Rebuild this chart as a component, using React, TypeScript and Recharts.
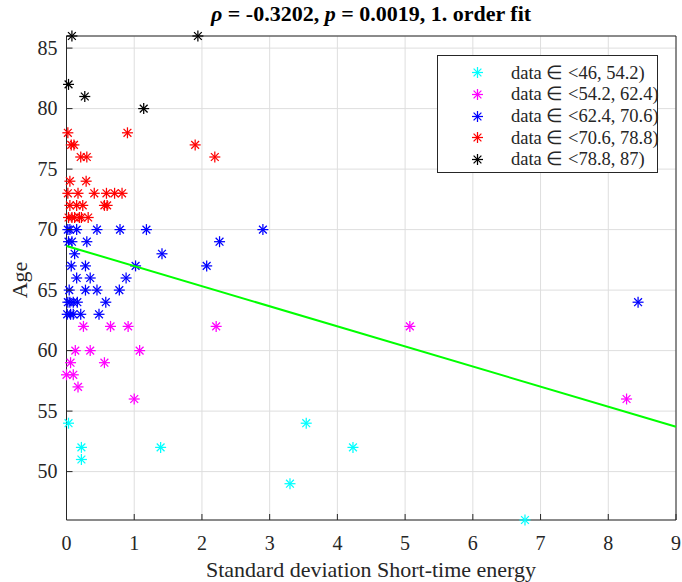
import React from 'react';
import { ScatterChart, Scatter, XAxis, YAxis, CartesianGrid } from 'recharts';

// ---- data ----
const xTicks = [0, 1, 2, 3, 4, 5, 6, 7, 8, 9];
const yTicks = [50, 55, 60, 65, 70, 75, 80, 85];

const seriesNames = [
  'data \u2208 <46, 54.2)',
  'data \u2208 <54.2, 62.4)',
  'data \u2208 <62.4, 70.6)',
  'data \u2208 <70.6, 78.8)',
  'data \u2208 <78.8, 87)',
];
const seriesColors = ['#00ffff', '#ff00ff', '#0000ff', '#ff0000', '#000000'];

const cyanX = [0.03, 3.54, 0.22, 1.39, 4.23, 0.22, 3.3, 6.77];
const cyanY = [54, 54, 52, 52, 52, 51, 49, 46];

const magentaX = [0.25, 0.65, 0.91, 2.21, 5.07, 0.13, 0.35, 1.08, 0.06, 0.56, 0.0, 0.1, 0.17, 1.0, 8.27];
const magentaY = [62, 62, 62, 62, 62, 60, 60, 60, 59, 59, 58, 58, 57, 56, 56];

const blueX = [
  0.02, 0.05, 0.15, 0.45, 0.79, 1.18, 2.9,
  0.03, 0.08, 0.3, 2.26,
  0.12, 1.41,
  0.07, 0.28, 1.02, 2.07,
  0.15, 0.35, 0.88,
  0.04, 0.28, 0.45, 0.78,
  0.02, 0.05, 0.1, 0.16, 0.58, 8.44,
  0.01, 0.06, 0.1, 0.21, 0.48,
];
const blueY = [
  70, 70, 70, 70, 70, 70, 70,
  69, 69, 69, 69,
  68, 68,
  67, 67, 67, 67,
  66, 66, 66,
  65, 65, 65, 65,
  64, 64, 64, 64, 64, 64,
  63, 63, 63, 63, 63,
];

const redX = [
  0.02, 0.9,
  0.07, 0.11, 1.9,
  0.21, 0.3, 2.19,
  0.05, 0.29,
  0.02, 0.17, 0.41, 0.59, 0.71, 0.82,
  0.05, 0.15, 0.24, 0.56, 0.6,
  0.03, 0.08, 0.12, 0.19, 0.22, 0.32,
];
const redY = [
  78, 78,
  77, 77, 77,
  76, 76, 76,
  74, 74,
  73, 73, 73, 73, 73, 73,
  72, 72, 72, 72, 72,
  71, 71, 71, 71, 71, 71,
];

const blackX = [0.08, 1.94, 0.03, 0.27, 1.14];
const blackY = [86, 86, 82, 81, 80];

const fitX = [0, 9];
const fitY = [68.65, 53.7];

const toPoints = (xs: number[], ys: number[]) => xs.map((x, i) => ({ x, y: ys[i] }));
const seriesData = [
  toPoints(cyanX, cyanY),
  toPoints(magentaX, magentaY),
  toPoints(blueX, blueY),
  toPoints(redX, redY),
  toPoints(blackX, blackY),
];
const fitData = toPoints(fitX, fitY);

// ---- styles ----
const FONT = '"Liberation Serif", "Times New Roman", serif';
const AXIS = '#262626';
const W = 682;
const H = 582;
const STAR_R = 5.5;
const STAR_D = 3.9;
const STAR_SW = 1.25;

const makeStar = (color: string) => (props: any) => {
  const { cx, cy } = props;
  if (cx == null || cy == null) return <g />;
  const r = STAR_R;
  const d = STAR_D;
  return (
    <g stroke={color} strokeWidth={STAR_SW} fill="none">
      <line x1={cx - r} y1={cy} x2={cx + r} y2={cy} />
      <line x1={cx} y1={cy - r} x2={cx} y2={cy + r} />
      <line x1={cx - d} y1={cy - d} x2={cx + d} y2={cy + d} />
      <line x1={cx - d} y1={cy + d} x2={cx + d} y2={cy - d} />
    </g>
  );
};

const BottomTick = (p: any) => {
  const { x, y, payload } = p;
  return (
    <g>
      <line x1={x} x2={x} y1={y} y2={y - 6} stroke={AXIS} strokeWidth={1} />
      <text x={x} y={y + 30} textAnchor="middle" fontSize={20} fontFamily={FONT} fill={AXIS}>
        {payload.value}
      </text>
    </g>
  );
};
const TopTick = (p: any) => {
  const { x, y } = p;
  return <line x1={x} x2={x} y1={y} y2={y + 6} stroke={AXIS} strokeWidth={1} />;
};
const LeftTick = (p: any) => {
  const { x, y, payload } = p;
  return (
    <g>
      <line x1={x} x2={x + 6} y1={y} y2={y} stroke={AXIS} strokeWidth={1} />
      <text x={x - 9} y={y} dy="0.34em" textAnchor="end" fontSize={20} fontFamily={FONT} fill={AXIS}>
        {payload.value}
      </text>
    </g>
  );
};
const RightTick = (p: any) => {
  const { x, y } = p;
  return <line x1={x} x2={x - 6} y1={y} y2={y} stroke={AXIS} strokeWidth={1} />;
};

const LegendStar = ({ color }: { color: string }) => (
  <svg width={13} height={13} viewBox="-6.5 -6.5 13 13" style={{ display: 'block' }}>
    <g stroke={color} strokeWidth={STAR_SW}>
      <line x1={-STAR_R} y1={0} x2={STAR_R} y2={0} />
      <line x1={0} y1={-STAR_R} x2={0} y2={STAR_R} />
      <line x1={-STAR_D} y1={-STAR_D} x2={STAR_D} y2={STAR_D} />
      <line x1={-STAR_D} y1={STAR_D} x2={STAR_D} y2={-STAR_D} />
    </g>
  </svg>
);

export default function App() {
  return (
    <div style={{ position: 'absolute', left: 0, top: 0, width: W, height: H, background: '#fff' }}>
      <ScatterChart width={W} height={H} margin={{ top: 30, right: 0, bottom: 0, left: 0.5 }}>
        <CartesianGrid stroke="#dedede" strokeWidth={1} />
        <XAxis
          type="number"
          dataKey="x"
          domain={[0, 9]}
          ticks={xTicks}
          height={62}
          tickSize={0}
          tickMargin={0}
          tick={<BottomTick />}
          axisLine={{ stroke: AXIS }}
        />
        <XAxis
          xAxisId="top"
          orientation="top"
          type="number"
          domain={[0, 9]}
          ticks={xTicks}
          height={6}
          tickSize={0}
          tickMargin={0}
          tick={<TopTick />}
          axisLine={{ stroke: AXIS }}
        />
        <YAxis
          type="number"
          dataKey="y"
          domain={[46, 86]}
          ticks={yTicks}
          width={66}
          tickSize={0}
          tickMargin={0}
          tick={<LeftTick />}
          axisLine={{ stroke: AXIS }}
        />
        <YAxis
          yAxisId="right"
          orientation="right"
          type="number"
          domain={[46, 86]}
          ticks={yTicks}
          width={6}
          tickSize={0}
          tickMargin={0}
          tick={<RightTick />}
          axisLine={{ stroke: AXIS }}
        />
        {seriesData.map((d, i) => (
          <Scatter
            key={seriesNames[i]}
            name={seriesNames[i]}
            data={d}
            shape={makeStar(seriesColors[i])}
            isAnimationActive={false}
          />
        ))}
        <Scatter
          name="fit"
          data={fitData}
          line={{ stroke: '#00ff00', strokeWidth: 2 }}
          shape={() => <g />}
          isAnimationActive={false}
        />
      </ScatterChart>

      <svg
        width={W}
        height={H}
        style={{ position: 'absolute', left: 0, top: 0, pointerEvents: 'none' }}
      >
        <text x={371} y={21} textAnchor="middle" fontSize={22} fontWeight="bold" fontFamily={FONT} fill="#000">
          <tspan fontStyle="italic">{'\u03C1'}</tspan>
          <tspan>{' = -0.3202, '}</tspan>
          <tspan fontStyle="italic">p</tspan>
          <tspan>{' = 0.0019, 1. order fit'}</tspan>
        </text>
        <text x={371} y={577} textAnchor="middle" fontSize={22} fontFamily={FONT} fill={AXIS}>
          Standard deviation Short-time energy
        </text>
        <text
          x={27}
          y={280}
          fontSize={22}
          fontFamily={FONT}
          fill={AXIS}
          textAnchor="middle"
          transform="rotate(-90 27 280)"
        >
          Age
        </text>
      </svg>

      <div
        style={{
          position: 'absolute',
          left: 437,
          top: 55,
          width: 219,
          height: 116,
          border: `1px solid ${AXIS}`,
          background: '#fff',
          fontFamily: FONT,
          fontSize: 18.5,
          color: AXIS,
        }}
      >
        {seriesNames.map((n, i) => (
          <div
            key={n}
            style={{
              position: 'absolute',
              left: 0,
              top: 16.7 + i * 21.65 - 11,
              height: 22,
              display: 'flex',
              alignItems: 'center',
              whiteSpace: 'nowrap',
            }}
          >
            <div style={{ width: 33 }} />
            <LegendStar color={seriesColors[i]} />
            <div style={{ width: 27 }} />
            <span>{n}</span>
          </div>
        ))}
      </div>
    </div>
  );
}
